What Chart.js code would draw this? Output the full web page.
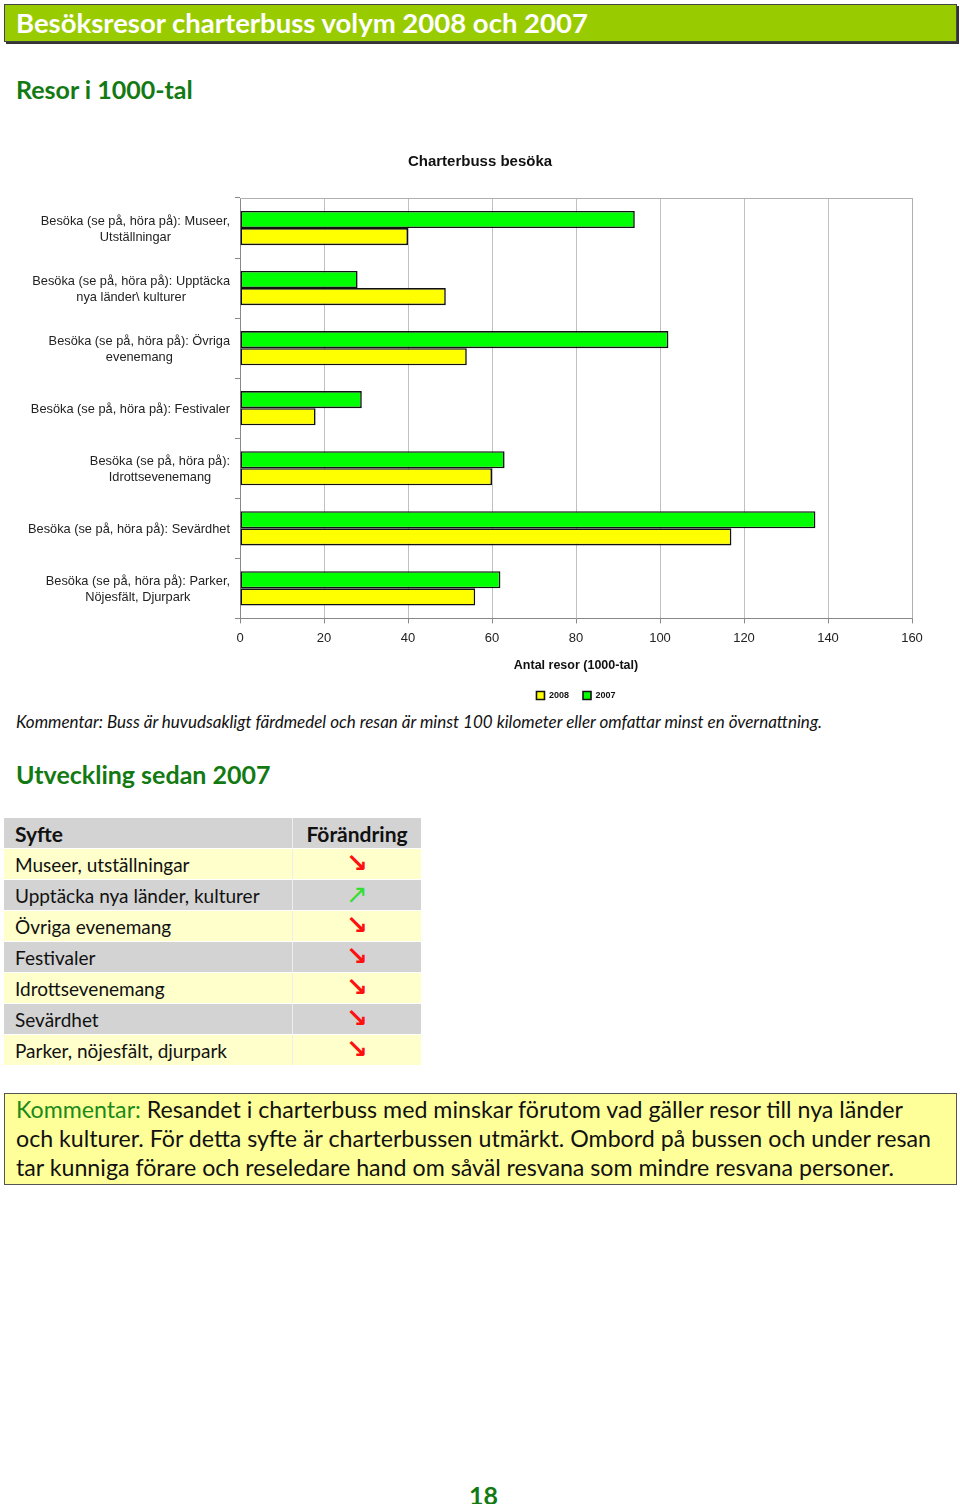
<!DOCTYPE html>
<html>
<head>
<meta charset="utf-8">
<script src="https://cdn.jsdelivr.net/npm/chart.js@4"></script>
<style>
  body { margin: 0; width: 960px; height: 1504px; background: #fff; position: relative; font-family: Lato, sans-serif; }
  .abs { position: absolute; white-space: nowrap; }
  #header { left: 4px; top: 4px; height: 36px; width: 940px; background: #99cc00; border: 1px solid #444;
            box-shadow: 2px 2px 0 #333; color: #fff; font-weight: bold; font-size: 27.5px; line-height: 36px; padding-left: 11px; }
  .green-h { color: #137a13; font-weight: bold; font-size: 25px; }
  #chartWrap { left: 0; top: 140px; width: 960px; height: 570px; }
  #note1 { left: 16px; top: 711px; font-style: italic; font-size: 17px; color: #111; }
  table { position: absolute; left: 4px; top: 818px; border-collapse: collapse; font-size: 19px; color: #111; }
  td { height: 30px; padding: 0 0 0 11px; border-bottom: 1px solid #fff; }
  td.c1 { width: 277px; }
  td.c2 { width: 128px; text-align: center; padding: 0; border-left: 1px solid #eee; }
  tr.h td { background: #d3d3d3; font-weight: bold; font-size: 21px; }
  tr.y td { background: #ffffcc; }
  tr.g td { background: #d3d3d3; }
  .dn, .up { font-family: "DejaVu Sans"; font-weight: bold; font-size: 26px; line-height: 20px; display: inline-block; }
  .dn { color: #ff1010; }
  .up { color: #33dd33; font-weight: normal; }
  #box { left: 4px; top: 1093px; width: 953px; height: 92px; background: #ffff99; border: 1px solid #555; font-size: 23.2px;
         line-height: 29px; padding: 1px 0 0 11px; box-sizing: border-box; color: #111; }
  #box .k { color: #1a8a1a; }
  #pnum { left: 469px; top: 1480px; color: #137a13; font-weight: bold; font-size: 25px; }
</style>
</head>
<body>
<div id="header" class="abs">Besöksresor charterbuss volym 2008 och 2007</div>
<div class="abs green-h" style="left:16px; top:74px;">Resor i 1000-tal</div>

<div id="chartWrap" class="abs"><canvas id="c" width="960" height="570"></canvas></div>

<div id="note1" class="abs">Kommentar: Buss är huvudsakligt färdmedel och resan är minst 100 kilometer eller omfattar minst en övernattning.</div>

<div class="abs green-h" style="left:16px; top:759px;">Utveckling sedan 2007</div>

<table id="tbl"></table>

<div id="box" class="abs"><span class="k">Kommentar:</span> Resandet i charterbuss med minskar förutom vad gäller resor till nya länder<br>och kulturer. För detta syfte är charterbussen utmärkt. Ombord på bussen och under resan<br>tar kunniga förare och reseledare hand om såväl resvana som mindre resvana personer.</div>

<div id="pnum" class="abs">18</div>

<script>
// ── DATA ──
const categories = [
  ['Besöka (se på, höra på): Museer,', 'Utställningar'],
  ['Besöka (se på, höra på): Upptäcka', 'nya länder\\ kulturer'],
  ['Besöka (se på, höra på): Övriga', 'evenemang'],
  ['Besöka (se på, höra på): Festivaler'],
  ['Besöka (se på, höra på):', 'Idrottsevenemang'],
  ['Besöka (se på, höra på): Sevärdhet'],
  ['Besöka (se på, höra på): Parker,', 'Nöjesfält, Djurpark'],
];
const values2007 = [94, 28, 102, 29, 63, 137, 62];
const values2008 = [40, 49, 54, 18, 60, 117, 56];
const xTicks = [0, 20, 40, 60, 80, 100, 120, 140, 160];

const tableRows = ['Museer, utställningar', 'Upptäcka nya länder, kulturer', 'Övriga evenemang',
  'Festivaler', 'Idrottsevenemang', 'Sevärdhet', 'Parker, nöjesfält, djurpark'];
const tableTrend = ['down', 'up', 'down', 'down', 'down', 'down', 'down'];

// ── TABLE ──
const tbl = document.getElementById('tbl');
let html = '<tr class="h"><td class="c1">Syfte</td><td class="c2">Förändring</td></tr>';
tableRows.forEach((r, i) => {
  const arrow = tableTrend[i] === 'up' ? '<span class="up">↗</span>' : '<span class="dn">↘</span>';
  html += `<tr class="${i % 2 === 0 ? 'y' : 'g'}"><td class="c1">${r}</td><td class="c2">${arrow}</td></tr>`;
});
tbl.innerHTML = html;

// ── PLUGINS ──
const FONT = '"Liberation Sans", Arial, sans-serif';

// grey frame on top and right of the plot area
const frame = {
  id: 'frame',
  beforeDatasetsDraw(chart) {
    const { ctx, chartArea: a } = chart;
    ctx.save();
    ctx.strokeStyle = '#b0b0b0';
    ctx.lineWidth = 1;
    ctx.beginPath();
    ctx.moveTo(a.left, a.top + 0.5); ctx.lineTo(a.right + 0.5, a.top + 0.5); ctx.lineTo(a.right + 0.5, a.bottom);
    ctx.stroke();
    ctx.restore();
  }
};

// category labels: lines centred on each other, block right-aligned to the axis
const yLabels = {
  id: 'yLabels',
  afterDraw(chart) {
    const { ctx } = chart;
    const ys = chart.scales.y;
    ctx.save();
    ctx.font = '12.8px ' + FONT;
    ctx.fillStyle = '#222';
    ctx.textAlign = 'center';
    ctx.textBaseline = 'middle';
    categories.forEach((lines, i) => {
      const yc = ys.getPixelForTick(i) + 1;
      const maxW = Math.max(...lines.map(l => ctx.measureText(l).width));
      const xc = ys.right - 10 - maxW / 2;
      const y0 = yc - (lines.length - 1) * 8;
      lines.forEach((l, j) => ctx.fillText(l, xc, y0 + j * 16));
    });
    ctx.restore();
  }
};

// ── CHART ──
new Chart(document.getElementById('c'), {
  type: 'bar',
  data: {
    labels: categories,
    datasets: [
      { label: '2007', data: values2007, backgroundColor: '#00ff00', borderColor: '#111', borderWidth: 1.6, borderSkipped: false },
      { label: '2008', data: values2008, backgroundColor: '#ffff00', borderColor: '#111', borderWidth: 1.6, borderSkipped: false },
    ]
  },
  options: {
    indexAxis: 'y',
    responsive: false,
    devicePixelRatio: 1,
    animation: false,
    layout: { padding: { left: 48, right: 48, top: 0, bottom: 0 } },
    datasets: { bar: { categoryPercentage: 0.57, barPercentage: 1.0 } },
    scales: {
      x: {
        min: 0, max: 160,
        afterBuildTicks: s => { s.ticks = xTicks.map(v => ({ value: v })); },
        ticks: { color: '#222', font: { family: FONT, size: 13 }, padding: 7 },
        grid: { color: '#c0c0c0', tickColor: '#888', tickLength: 5 },
        border: { color: '#888' },
        title: { display: true, text: 'Antal resor (1000-tal)', color: '#111',
                 font: { family: FONT, size: 12.5, weight: 'bold' }, padding: { top: 5, bottom: 4 } }
      },
      y: {
        offset: true,
        ticks: { display: false },
        grid: { drawOnChartArea: false, offset: true, tickLength: 5, tickColor: '#888' },
        border: { color: '#888' },
        afterFit: s => { s.width = 192; }
      }
    },
    plugins: {
      title: { display: true, text: 'Charterbuss besöka', color: '#111',
               font: { family: FONT, size: 15, weight: 'bold' }, padding: { top: 13, bottom: 27 } },
      legend: {
        position: 'bottom', fullSize: false, reverse: true,
        labels: { color: '#111', font: { family: FONT, size: 9, weight: 'bold' }, boxWidth: 8, boxHeight: 8, padding: 14 }
      },
      tooltip: { enabled: false }
    }
  },
  plugins: [frame, yLabels]
});
</script>
</body>
</html>
